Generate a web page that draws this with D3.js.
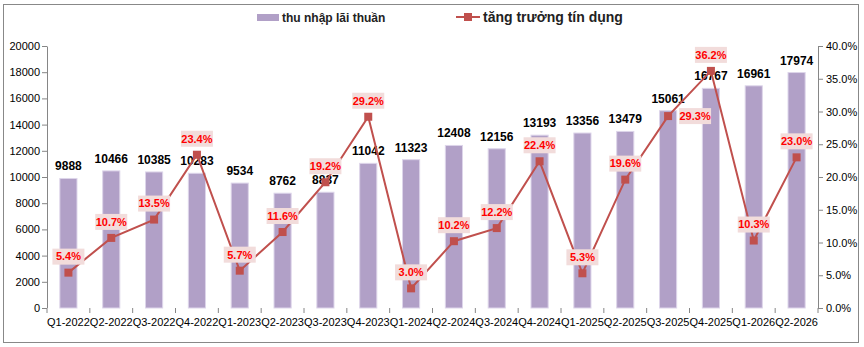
<!DOCTYPE html>
<html>
<head>
<meta charset="utf-8">
<script src="https://cdn.jsdelivr.net/npm/d3@7"></script>
<style>
  body { margin: 0; background: #fff; }
  svg { display: block; font-family: "Liberation Sans", Arial, sans-serif; }
</style>
</head>
<body>
<svg id="Viz"></svg>
<script>
// data
let quarters = ["Q1-2022","Q2-2022","Q3-2022","Q4-2022","Q1-2023","Q2-2023","Q3-2023","Q4-2023","Q1-2024",
                "Q2-2024","Q3-2024","Q4-2024","Q1-2025","Q2-2025","Q3-2025","Q4-2025","Q1-2026","Q2-2026"];
let income = [9888,10466,10385,10283,9534,8762,8837,11042,11323,12408,12156,13193,13356,13479,15061,16767,16961,17974];
let growth = [5.4,10.7,13.5,23.4,5.7,11.6,19.2,29.2,3.0,10.2,12.2,22.4,5.3,19.6,29.3,36.2,10.3,23.0];
let leftTicks = [0,2000,4000,6000,8000,10000,12000,14000,16000,18000,20000];
let rightTicks = [0,5,10,15,20,25,30,35,40];
// which percent labels sit right of the marker instead of above
let labelRight = [14];

let Width = 864, Height = 347;
let margin = {top: 46, right: 46, bottom: 39, left: 47};
let w = 818 - margin.left, h = 308 - margin.top;

let svg = d3.select("#Viz").attr("width", Width).attr("height", Height);

// outer frame
svg.append("rect")
  .attr("x", 3.5).attr("y", 4.5).attr("width", 855).attr("height", 338)
  .attr("fill", "none").attr("stroke", "#888").attr("stroke-width", 1);

let g = svg.append("g").attr("transform", "translate(" + margin.left + "," + margin.top + ")");

let xScale = d3.scaleBand().domain(quarters).range([0, w]);
let yScale = d3.scaleLinear().domain([0, 20000]).range([h, 0]);
let y2Scale = d3.scaleLinear().domain([0, 40]).range([h, 0]);

// bars
g.selectAll(".bar")
  .data(income)
  .enter()
  .append("rect")
  .attr("class", "bar")
  .attr("x", (d, i) => xScale(quarters[i]) + xScale.bandwidth() * 0.3)
  .attr("width", xScale.bandwidth() * 0.4)
  .attr("y", d => yScale(d))
  .attr("height", d => h - yScale(d))
  .attr("fill", "#b1a0c7")
  .attr("stroke", "#ddd5ea")
  .attr("stroke-width", 1);

// axes
let axisColor = "#868686";
let leftAxis = g.append("g")
  .call(d3.axisLeft(yScale).tickValues(leftTicks).tickSize(5).tickFormat(d3.format("d")));
let rightAxis = g.append("g")
  .attr("transform", "translate(" + w + ",0)")
  .call(d3.axisRight(y2Scale).tickValues(rightTicks).tickSize(5).tickFormat(d => d.toFixed(1) + "%"));
let bottomAxis = g.append("g")
  .attr("transform", "translate(0," + h + ")")
  .call(d3.axisBottom(xScale).tickSize(0).tickPadding(10));

// tick marks between categories on the bottom axis
g.append("g")
  .selectAll("line")
  .data(d3.range(quarters.length + 1))
  .enter()
  .append("line")
  .attr("x1", i => i * xScale.step()).attr("x2", i => i * xScale.step())
  .attr("y1", h).attr("y2", h + 5)
  .attr("stroke", axisColor);

[leftAxis, rightAxis, bottomAxis].forEach(a => {
  a.select(".domain").attr("stroke", axisColor);
  a.selectAll(".tick line").attr("stroke", axisColor);
  a.selectAll("text").attr("fill", "#000").attr("font-size", "11px");
});
leftAxis.select(".domain").attr("d", "M0.5," + h + "V0.5");
rightAxis.select(".domain").attr("d", "M0.5," + h + "V0.5");
bottomAxis.select(".domain").attr("d", "M0," + (h + 0.5) + "H" + w);
leftAxis.selectAll("text").attr("x", -7).attr("text-anchor", "end");

// bar value labels
g.selectAll(".barlabel")
  .data(income)
  .enter()
  .append("text")
  .attr("x", (d, i) => xScale(quarters[i]) + xScale.bandwidth() / 2)
  .attr("y", d => yScale(d) - 8)
  .attr("text-anchor", "middle")
  .attr("font-size", "12px")
  .attr("font-weight", "bold")
  .attr("fill", "#000")
  .text(d => d);

// growth line
let cx = i => xScale(quarters[i]) + xScale.bandwidth() / 2;
let drawLine = d3.line()
  .x((d, i) => cx(i))
  .y(d => y2Scale(d));

g.append("path")
  .datum(growth)
  .attr("fill", "none")
  .attr("stroke", "#c0504d")
  .attr("stroke-width", 2)
  .attr("d", drawLine);

g.selectAll(".marker")
  .data(growth)
  .enter()
  .append("rect")
  .attr("x", (d, i) => cx(i) - 4)
  .attr("y", d => y2Scale(d) - 4)
  .attr("width", 8)
  .attr("height", 8)
  .attr("fill", "#c0504d");

// percent labels with pink boxes
let pl = g.selectAll(".pctlabel")
  .data(growth)
  .enter()
  .append("g")
  .attr("transform", (d, i) => labelRight.includes(i)
    ? "translate(" + (cx(i) + 27) + "," + y2Scale(d) + ")"
    : "translate(" + cx(i) + "," + (y2Scale(d) - 16) + ")");

pl.append("rect")
  .attr("x", -16).attr("y", -8)
  .attr("width", 32).attr("height", 16)
  .attr("fill", "#f2dcdb");

pl.append("text")
  .attr("text-anchor", "middle")
  .attr("dy", "0.35em")
  .attr("font-size", "11px")
  .attr("font-weight", "bold")
  .attr("fill", "#ff0000")
  .text(d => d.toFixed(1) + "%");

// legend
let legend = svg.append("g");
legend.append("rect")
  .attr("x", 257).attr("y", 14).attr("width", 22).attr("height", 7)
  .attr("fill", "#b1a0c7");
legend.append("text")
  .attr("x", 282).attr("y", 17.5).attr("dy", "0.35em")
  .attr("font-size", "12px").attr("font-weight", "bold").attr("fill", "#222")
  .text("thu nhập lãi thuần");
legend.append("line")
  .attr("x1", 456).attr("x2", 480).attr("y1", 17).attr("y2", 17)
  .attr("stroke", "#c0504d").attr("stroke-width", 2);
legend.append("rect")
  .attr("x", 464).attr("y", 13).attr("width", 8).attr("height", 8)
  .attr("fill", "#c0504d");
legend.append("text")
  .attr("x", 483).attr("y", 17).attr("dy", "0.35em")
  .attr("font-size", "14px").attr("font-weight", "bold").attr("fill", "#222")
  .text("tăng trưởng tín dụng");
</script>
</body>
</html>
